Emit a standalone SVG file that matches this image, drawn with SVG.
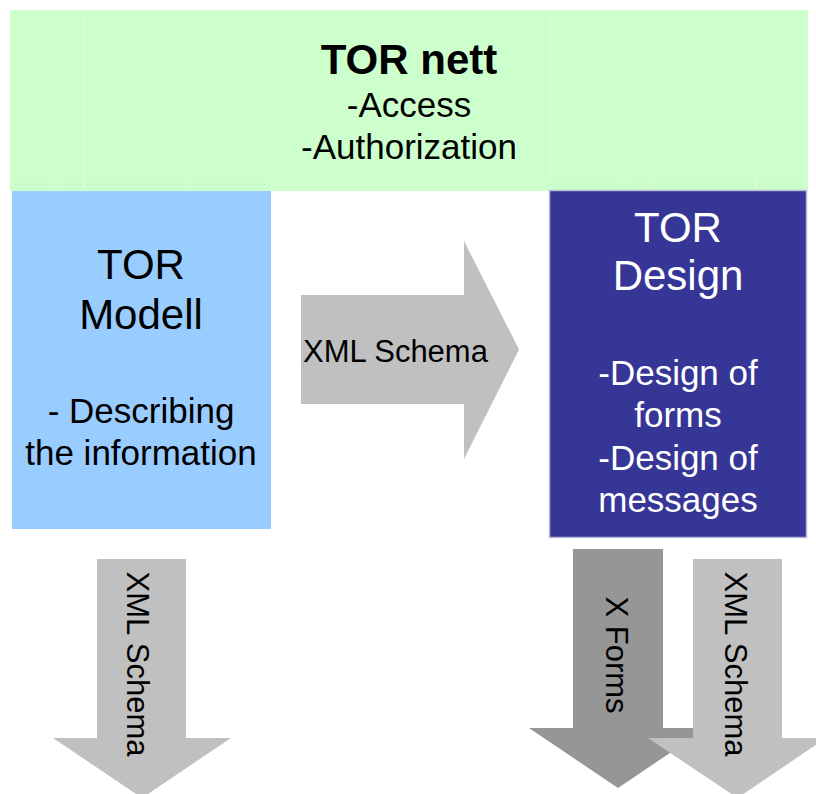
<svg xmlns="http://www.w3.org/2000/svg" width="816" height="794" viewBox="0 0 816 794">
  <style>
    text { font-family: "Liberation Sans", Arial, sans-serif; }
    .t34 { font-size: 35px; text-anchor: middle; }
    .t41 { font-size: 42px; text-anchor: middle; }
    .lbl { font-size: 31px; fill: #000; }
    .faint { stroke: #ffffff; stroke-opacity: 0.35; stroke-width: 1; }
    .dots { stroke: #9fb8c8; stroke-opacity: 0.6; stroke-width: 1; stroke-dasharray: 2 6; }
    .arrowLight { fill: #c0c0c0; }
    .arrowDark { fill: #969696; }
  </style>

  <g id="tor-nett">
    <rect x="10" y="10" width="798" height="181" fill="#ccffcc"/>
    <g>
      <line class="faint" x1="56" y1="10" x2="56" y2="191"/>
      <line class="faint" x1="84" y1="10" x2="84" y2="191"/>
      <line class="faint" x1="186" y1="10" x2="186" y2="191"/>
      <line class="faint" x1="288" y1="10" x2="288" y2="191"/>
      <line class="faint" x1="318" y1="10" x2="318" y2="191"/>
      <line class="faint" x1="390" y1="10" x2="390" y2="191"/>
      <line class="faint" x1="522" y1="10" x2="522" y2="191"/>
      <line class="faint" x1="551" y1="10" x2="551" y2="191"/>
      <line class="faint" x1="624" y1="10" x2="624" y2="191"/>
      <line class="faint" x1="654" y1="10" x2="654" y2="191"/>
      <line class="faint" x1="755" y1="10" x2="755" y2="191"/>
      <line class="dots" x1="15" y1="184" x2="270" y2="184"/>
      <line class="dots" x1="551" y1="184" x2="800" y2="184"/>
    </g>
    <text x="409" y="74" font-size="42" font-weight="bold" text-anchor="middle">TOR nett</text>
    <text class="t34" x="409" y="117">-Access</text>
    <text class="t34" x="409" y="159">-Authorization</text>
  </g>

  <g id="tor-modell">
    <rect x="12" y="191" width="259" height="338" fill="#99ccff"/>
    <text class="t41" x="141" y="279">TOR</text>
    <text class="t41" x="141" y="329">Modell</text>
    <text class="t34" x="141" y="423">- Describing</text>
    <text class="t34" x="141" y="465">the information</text>
  </g>

  <g id="tor-design">
    <rect x="549.5" y="190.5" width="257" height="347" fill="#363696" stroke="#b8b8d8" stroke-width="1.5"/>
    <text class="t41" x="678" y="242" fill="#ffffff">TOR</text>
    <text class="t41" x="678" y="290" fill="#ffffff">Design</text>
    <text class="t34" x="678" y="385" fill="#ffffff">-Design of</text>
    <text class="t34" x="678" y="427" fill="#ffffff">forms</text>
    <text class="t34" x="678" y="470" fill="#ffffff">-Design of</text>
    <text class="t34" x="678" y="512" fill="#ffffff">messages</text>
  </g>

  <g id="connectors">
    <g id="arrow-modell-design">
      <polygon class="arrowLight" points="301,295 464,295 464,241 519,349.5 464,459 464,404 301,404"/>
      <text class="lbl" x="303" y="362">XML Schema</text>
    </g>
    <g id="arrow-modell-down">
      <polygon class="arrowLight" points="97,559 186,559 186,738 231,738 142,798 53,738 97,738"/>
      <text class="lbl" text-anchor="middle" transform="translate(127,664) rotate(90)">XML Schema</text>
    </g>
    <g id="arrow-design-xforms">
      <polygon class="arrowDark" points="573,549 663,549 663,728 707,728 618,788 529,728 573,728"/>
      <text class="lbl" text-anchor="middle" transform="translate(606,655) rotate(90)">X Forms</text>
    </g>
    <g id="arrow-design-schema">
      <polygon class="arrowLight" points="693,559 782,559 782,738 826,738 737.5,798 648,738 693,738"/>
      <text class="lbl" text-anchor="middle" transform="translate(725,664) rotate(90)">XML Schema</text>
    </g>
  </g>
</svg>
